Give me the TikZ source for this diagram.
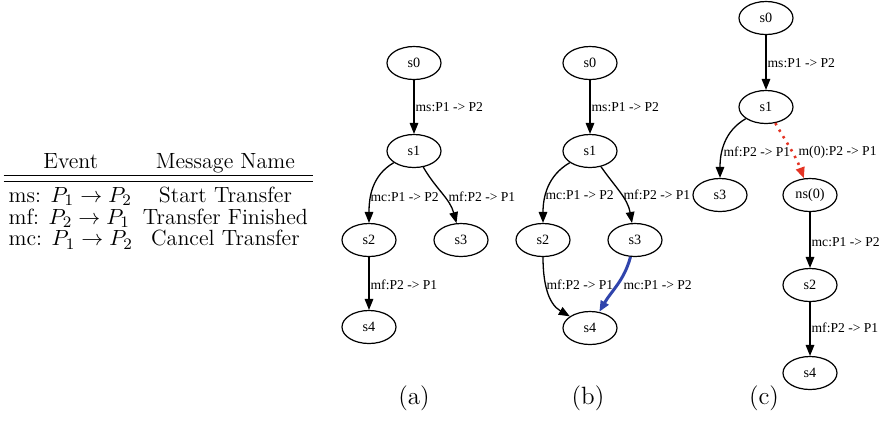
\documentclass[tikz,border=0pt]{standalone}
\usepackage{amsmath,amssymb}
\usepackage{xcolor}
\usepackage{fontspec}
\usepackage{tikz}
\usetikzlibrary{shapes.geometric,arrows.meta}
\newfontfamily\gvfont{Liberation Serif}
\definecolor{pathblue}{RGB}{48,68,172}
\definecolor{pathred}{RGB}{228,52,36}
\tikzset{st/.style={ellipse,draw,line width=0.6pt,minimum width=27pt,minimum height=16.5pt,inner sep=0pt,font=\gvfont\fontsize{7.1}{8}\selectfont}}
\tikzset{lab/.style={anchor=west,inner sep=0pt,font=\gvfont\fontsize{6.8}{8}\selectfont}}
\tikzset{subcap/.style={inner sep=0pt,font=\fontsize{12.5}{14}\selectfont}}

\begin{document}
\begin{tikzpicture}[x=0.5pt,y=-0.5pt,>={Triangle[length=5.5pt,width=4.3pt]},line width=0.65pt]
    \useasboundingbox (0,0) rectangle (884,420);

    \node[anchor=north west,inner sep=0pt] (tab) at (3,153) {\fontsize{11}{10.6}\selectfont
      \setlength\tabcolsep{2.5pt}\setlength\doublerulesep{2.8pt}%
      \begin{tabular}{lc}
        \multicolumn{1}{c}{Event} & Message Name\\ \hline\hline
        \rule{0pt}{10.4pt}ms: $P_1 \rightarrow P_2$ & Start Transfer\\
        mf: $P_2 \rightarrow P_1$ & Transfer Finished\\
        mc: $P_1 \rightarrow P_2$ & Cancel Transfer
      \end{tabular}};

    % (a)
    \node[st] (a0)at (414,63) {s0};
    \node[st] (a1)at (414,151) {s1};
    \node[st] (a2)at (369,240) {s2};
    \node[st] (a3)at (461,240) {s3};
    \node[st] (a4)at (369,327) {s4};

    \draw [->] (a0) to [] (a1);
    \draw [->] (a1) to [out=210,in=90] (a2);
    \draw [->] (a1) to [out=-60,in=105] (a3);
    \draw [->] (a2) to [] (a4);

    \node[lab] (la01)at (415,107) {ms:P1 -> P2};
    \node[lab] (la12)at (370,197) {mc:P1 -> P2};
    \node[lab] (la13)at (448,197) {mf:P2 -> P1};
    \node[lab] (la24)at (370,285) {mf:P2 -> P1};
    \node[subcap] (capa)at (414,398) {(a)};

    % (b)
    \node[st] (b0)at (590,63) {s0};
    \node[st] (b1)at (590,151) {s1};
    \node[st] (b2)at (543,240) {s2};
    \node[st] (b3)at (635,240) {s3};
    \node[st] (b4)at (590,328) {s4};

    \draw [->] (b0) to [] (b1);
    \draw [->] (b1) to [out=210,in=90] (b2);
    \draw [->] (b1) to [out=-55,in=100] (b3);
    \draw [->] (b2) to [out=-90,in=150] (b4);
    \draw [->,pathblue,line width=1.5pt] (b3) to [out=-105,in=60] (b4);

    \node[lab] (lb01)at (591,107) {ms:P1 -> P2};
    \node[lab] (lb12)at (545,195) {mc:P1 -> P2};
    \node[lab] (lb13)at (623,195) {mf:P2 -> P1};
    \node[lab] (lb24)at (546,285) {mf:P2 -> P1};
    \node[lab] (lb34)at (623,285) {mc:P1 -> P2};
    \node[subcap] (capb)at (588,398) {(b)};

    % (c)
    \node[st] (c0)at (766,18) {s0};
    \node[st] (c1)at (766,107) {s1};
    \node[st] (c3)at (720,195) {s3};
    \node[st] (cn)at (810,195) {ns(0)};
    \node[st] (c2)at (810,285) {s2};
    \node[st] (c4)at (810,373) {s4};

    \draw [->] (c0) to [] (c1);
    \draw [->] (c1) to [out=210,in=90] (c3);
    \draw [->,pathred,line width=1.3pt,dash pattern=on 1.2pt off 2.6pt] (c1) to [out=-60,in=110] (cn);
    \draw [->] (cn) to [] (c2);
    \draw [->] (c2) to [] (c4);

    \node[lab] (lc01)at (767,63) {ms:P1 -> P2};
    \node[lab] (lc13)at (723,152) {mf:P2 -> P1};
    \node[lab] (lc1n)at (798,152) {m(0):P2 -> P1};
    \node[lab] (lcn2)at (811,242) {mc:P1 -> P2};
    \node[lab] (lc24)at (811,328) {mf:P2 -> P1};
    \node[subcap] (capc)at (764,398) {(c)};
\end{tikzpicture}
\end{document}
